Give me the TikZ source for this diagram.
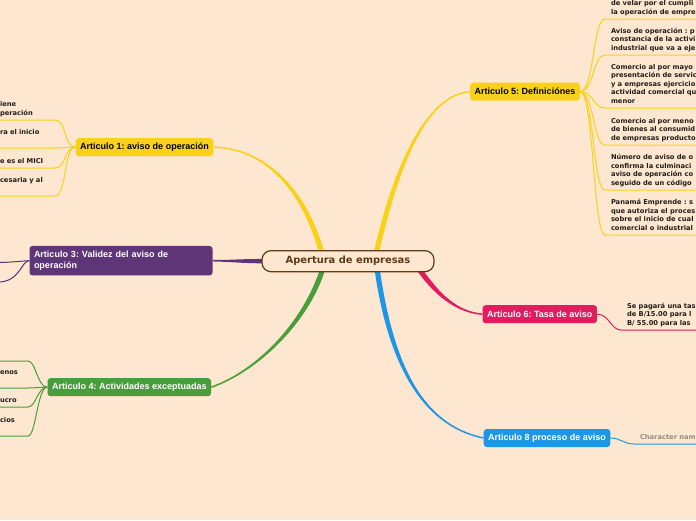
\documentclass[tikz,border=0pt]{standalone}
\usepackage{fontspec}
\setmainfont{Liberation Sans}
\newfontfamily\leaffont{DejaVu Sans}
\usetikzlibrary{positioning, calc, backgrounds}
\frenchspacing

\definecolor{paper}{RGB}{253,231,208}
\definecolor{rootink}{RGB}{94,58,20}
\definecolor{artyellow}{RGB}{249,209,24}
\definecolor{artpurple}{RGB}{94,53,119}
\definecolor{artgreen}{RGB}{73,157,59}
\definecolor{artpink}{RGB}{228,27,94}
\definecolor{artblue}{RGB}{30,150,232}
\definecolor{leafink}{RGB}{35,30,25}
\definecolor{hintink}{RGB}{150,140,128}

% tapered main branch: colour, start, control 1, control 2, end, half width at start, half width at end
\newcommand{\taperbranch}[7]{%
  \fill[#1] ($(#2)!#6!90:(#3)$) .. controls ($(#3)!#6!-90:(#2)$) and ($(#4)!#7!90:(#5)$) .. ($(#5)!#7!-90:(#4)$)
    -- ($(#5)!#7!90:(#4)$) .. controls ($(#4)!#7!-90:(#5)$) and ($(#3)!#6!90:(#2)$) .. ($(#2)!#6!-90:(#3)$) -- cycle;}
% depth under the last line of a leaf, down to its underline
\newcommand{\ldepth}{\rule[-4.5pt]{0pt}{0pt}}

\begin{document}
\begin{tikzpicture}[
    x=1pt, y=-1pt,
    root/.style={draw=rootink, line width=1.2pt, fill=paper, rounded corners=9pt, minimum width=172pt, minimum height=21pt, inner sep=0pt, font=\leaffont\bfseries\fontsize{9.9}{12}\selectfont, text=rootink},
    article/.style={rounded corners=3pt, minimum height=18pt, inner xsep=4.5pt, inner ysep=0pt, font=\bfseries\fontsize{9}{10.7}\selectfont, text=white},
    leaf/.style={font=\leaffont\bfseries\fontsize{6.7}{8.6}\selectfont, text=leafink, align=left, inner xsep=6pt, inner ysep=0pt, outer sep=0pt},
    leafR/.style={leaf, anchor=south west},
    leafL/.style={leaf, anchor=south east, text width=#1},
    twig/.style={line width=1pt},
  ]
  \useasboundingbox (0,0) rectangle (696,520);
  \begin{scope}[on background layer]
    \fill[paper] (0,0) rectangle (696,520);
  \end{scope}
  \coordinate (edgeL) at (0,0);
  \coordinate (edgeR) at (696,0);

  % Central topic
  \node[root] (root) at (348,261.2) {Apertura de empresas};

  % Articles
  \node[article, fill=artyellow, text=black] (a1) at (144.5,147.2) {Articulo 1: aviso de operación};
  \node[article, fill=artpurple, text width=174pt, align=left, minimum height=29.5pt] (a3) at (121,260.7) {Articulo 3: Validez del aviso de\\operación};
  \node[article, fill=artgreen] (a4) at (129.3,387.2) {Articulo 4: Actividades exceptuadas};
  \node[article, fill=artyellow, text=black] (a5) at (525,91.7) {Articulo 5: Definiciónes};
  \node[article, fill=artpink] (a6) at (539.8,314.2) {Articulo 6: Tasa de aviso};
  \node[article, fill=artblue] (a8) at (547,438) {Articulo 8 proceso de aviso};

  % Main branches, under the nodes
  \coordinate (s1) at ($(root.north)+(-26,4)$);
  \coordinate (s5) at ($(root.north)+(28,4)$);
  \coordinate (s3) at ($(root.west)+(4,0)$);
  \coordinate (s4) at ($(root.south)+(-25,-4)$);
  \coordinate (s6) at ($(root.south east)+(-16,-4)$);
  \coordinate (s8) at ($(root.south)+(29,-4)$);
  \begin{scope}[on background layer]
    \taperbranch{artyellow}{s1}{305,190}{265,148}{a1.east}{2.6pt}{0.75pt}
    \taperbranch{artyellow}{s5}{395,170}{425,95}{a5.west}{2.6pt}{0.75pt}
    \taperbranch{artpurple}{s3}{240,261}{230,261}{a3.east}{2.2pt}{0.75pt}
    \taperbranch{artgreen}{s4}{305,325}{255,372}{a4.east}{2.6pt}{0.75pt}
    \taperbranch{artpink}{s6}{435,292}{455,312}{a6.west}{2.6pt}{0.75pt}
    \taperbranch{artblue}{s8}{390,360}{420,425}{a8.west}{2.6pt}{0.75pt}
  \end{scope}

  % Articulo 1 leaves
  \node[leafL=49pt] (l1) at (55,120) {iene\\peración\ldepth};
  \node[leafL=49pt] (l2) at (55,148) {ra el inicio\\\ldepth};
  \node[leafL=49pt] (l3) at (55,168) {e es el MICI\ldepth};
  \node[leafL=49pt] (l4) at (55,196) {cesaria y al\\\ldepth};
  \foreach \l in {l1,l2,l3,l4}
    \draw[twig, artyellow] (a1.west) .. controls +(-12,0) and +(12,0) .. (\l.south east) -- (\l.south east -| edgeL);

  % Articulo 3 leaves
  \coordinate (p1) at (-2,262.5);
  \coordinate (p2) at (-2,282);
  \draw[twig, artpurple] (a3.west) .. controls +(-4,0) and +(12,0) .. (p1);
  \draw[twig, artpurple] (a3.west) .. controls +(-8,0) and +(22,0) .. (p2);

  % Articulo 4 leaves
  \coordinate (g0) at (28,361);
  \node[leafL=22pt] (g1) at (28,388) {enos\\\ldepth};
  \node[leafL=22pt] (g2) at (28,407) {ucro\ldepth};
  \node[leafL=22pt] (g3) at (28,436) {cios\\\ldepth};
  \draw[twig, artgreen] (a4.west) .. controls +(-10,0) and +(8,0) .. (g0) -- (g0 -| edgeL);
  \foreach \l in {g1,g2,g3}
    \draw[twig, artgreen] (a4.west) .. controls +(-10,0) and +(8,0) .. (\l.south east) -- (\l.south east -| edgeL);

  % Articulo 5 leaves
  \node[leafR] (r1) at (605,19) {de velar por el cumpli\\la operación de empre\ldepth};
  \node[leafR] (r2) at (605,55) {Aviso de operación : p\\constancia de la activi\\industrial que va a eje\ldepth};
  \node[leafR] (r3) at (605,108) {Comercio al por mayo\\presentación de servic\\y a empresas ejercicio\\actividad comercial qu\\menor\ldepth};
  \node[leafR] (r4) at (605,145) {Comercio al por meno\\de bienes al consumid\\de empresas producto\ldepth};
  \node[leafR] (r5) at (605,190) {Número de aviso de o\\confirma la culminaci\\aviso de operación co\\seguido de un código\ldepth};
  \node[leafR] (r6) at (605,235) {Panamá Emprende : s\\que autoriza el proces\\sobre el inicio de cual\\comercial o industrial\ldepth};
  \foreach \r in {r1,r2,r3,r4,r5,r6}
    \draw[twig, artyellow] (a5.east) .. controls +(14,0) and +(-12,0) .. (\r.south west) -- (\r.south west -| edgeR);

  % Articulo 6 leaf
  \node[leafR] (t1) at (621,330) {Se pagará una tas\\de B/15.00 para l\\B/ 55.00 para las\ldepth};
  \draw[twig, artpink] (a6.east) .. controls +(12,0) and +(-10,0) .. (t1.south west) -- (t1.south west -| edgeR);

  % Articulo 8 leaf
  \node[leafR, text=hintink] (h1) at (634,444) {Character nam\ldepth};
  \draw[twig, artblue] (a8.east) .. controls +(10,0) and +(-10,0) .. (h1.south west) -- (h1.south west -| edgeR);
\end{tikzpicture}
\end{document}
